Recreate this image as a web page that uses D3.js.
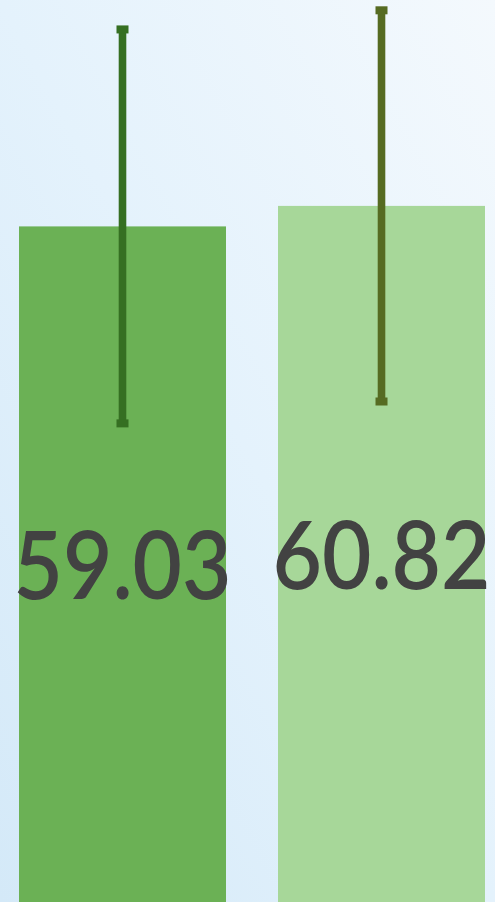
<!DOCTYPE html>
<html><head><meta charset="utf-8">
<script src="https://cdn.jsdelivr.net/npm/d3@7"></script>
<style>html,body{margin:0;padding:0;overflow:hidden;}svg{display:block;}</style>
</head><body>
<svg id="c" width="495" height="902"></svg>
<script>
const categories = ["A", "B"];
const values = [59.03, 60.82];
const errors = [17.2, 17.08];
const labels = ["59.03", "60.82"];
const barColors = ["#6bb155", "#a7d799"];
const errColors = ["#356f22", "#566b22"];

const W = 495, H = 902;
const svg = d3.select("#c");
const defs = svg.append("defs");
const g = defs.append("linearGradient").attr("id","bg").attr("x1","0").attr("y1","1").attr("x2","1").attr("y2","0");
g.append("stop").attr("offset","0").attr("stop-color","#d4e9f8");
g.append("stop").attr("offset","0.5").attr("stop-color","#e4f2fc");
g.append("stop").attr("offset","1").attr("stop-color","#f4f9fd");
svg.append("rect").attr("width",W).attr("height",H).attr("fill","url(#bg)");

const x = d3.scaleBand().domain(categories).range([19, 485]).paddingInner(0.2008).paddingOuter(0);
const y = d3.scaleLinear().domain([0, 78.8]).range([902.4, 0]);

const bars = svg.append("g");
bars.selectAll("rect").data(values).join("rect")
  .attr("x", (d,i)=>x(categories[i]))
  .attr("width", x.bandwidth())
  .attr("y", d=>y(d))
  .attr("height", d=>y(0)-y(d))
  .attr("fill", (d,i)=>barColors[i]);

const eb = svg.append("g");
values.forEach((v,i)=>{
  const cx = x(categories[i]) + x.bandwidth()/2;
  const top = y(v+errors[i]), bot = y(v-errors[i]);
  eb.append("rect").attr("x", cx-3.8).attr("width", 7.6).attr("y", top).attr("height", bot-top).attr("fill", errColors[i]);
  [top, bot].forEach(yy=>{
    eb.append("rect").attr("x", cx-6).attr("width", 12).attr("y", yy-4).attr("height", 8).attr("fill", errColors[i]);
  });
});

const lab = svg.append("g");
values.forEach((v,i)=>{
  const cx = x(categories[i]) + x.bandwidth()/2;
  const cy = (y(v)+y(0))/2;
  lab.append("text").attr("x", cx).attr("y", cy - 2)
    .attr("text-anchor","middle").attr("dominant-baseline","central")
    .attr("font-family","Lato, 'Open Sans', sans-serif").attr("font-size", 94)
    .attr("font-weight", 600)
    .attr("fill","#424242")
    .attr("textLength", 218).attr("lengthAdjust","spacingAndGlyphs")
    .text(labels[i]);
});
</script>
</body></html>
